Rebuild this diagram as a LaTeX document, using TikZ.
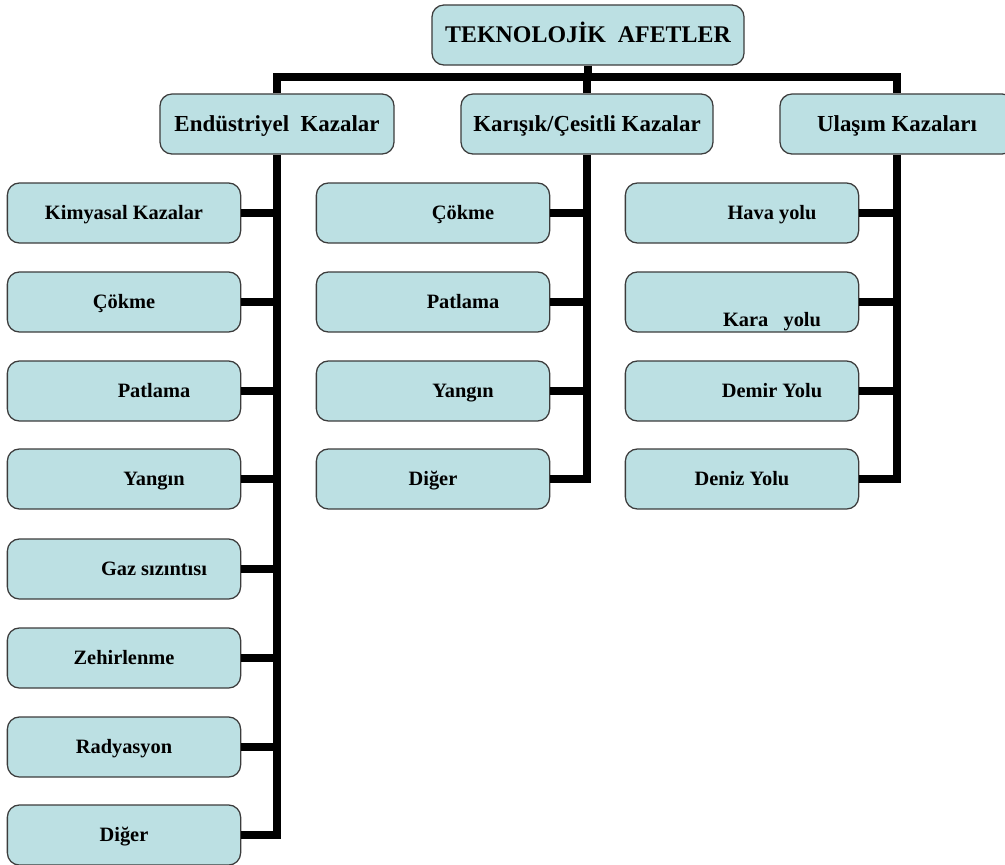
\documentclass[tikz,border=0pt]{standalone}
\usepackage{fontspec}
\setmainfont{Liberation Serif}
\usetikzlibrary{positioning,calc}

\definecolor{boxfill}{RGB}{188,224,227}
\definecolor{boxline}{RGB}{60,60,60}

\begin{document}
\begin{tikzpicture}[
    x=0.025cm, y=-0.025cm,
    box/.style={rectangle, draw=boxline, line width=0.9pt, fill=boxfill, rounded corners=0.3cm,
        minimum height=1.5cm, inner sep=2pt, text depth=3pt, font=\bfseries},
    topbox/.style={box, minimum width=7.8cm, text height=13.5pt, font=\bfseries\fontsize{17}{20}\selectfont},
    groupbox/.style={box, minimum width=5.85cm, text height=13pt, font=\bfseries\fontsize{16.3}{19}\selectfont},
    itembox/.style={box, minimum width=5.83cm, text height=12pt, font=\bfseries\fontsize{14.5}{17}\selectfont},
    rsh/.style={execute at begin node={\hspace*{1.5cm}}},
    conn/.style={line width=0.2cm, black, line join=miter}
]
    \useasboundingbox (0,0) rectangle (1005,864);

    % Top
    \node[topbox] (tk) at (588,35) {TEKNOLOJİK\ \ AFETLER};
    \coordinate (bar) at (588,77);

    % Groups
    \node[groupbox] (ind) at (277,124) {Endüstriyel\ \ Kazalar};
    \node[groupbox, minimum width=6.3cm] (kar) at (587,124) {Karışık/Çesitli Kazalar};
    \node[groupbox] (ula) at (897,124) {Ulaşım Kazaları};

    % Endüstriyel Kazalar
    \node[itembox] (i1) at (124,213) {Kimyasal Kazalar};
    \node[itembox] (i2) at (124,302) {Çökme};
    \node[itembox, rsh] (i3) at (124,391) {Patlama};
    \node[itembox, rsh] (i4) at (124,479) {Yangın};
    \node[itembox, rsh] (i5) at (124,569) {Gaz sızıntısı};
    \node[itembox] (i6) at (124,658) {Zehirlenme};
    \node[itembox] (i7) at (124,747) {Radyasyon};
    \node[itembox] (i8) at (124,835) {Diğer};

    % Karışık/Çeşitli Kazalar
    \node[itembox, rsh] (k1) at (433,213) {Çökme};
    \node[itembox, rsh] (k2) at (433,302) {Patlama};
    \node[itembox, rsh] (k3) at (433,391) {Yangın};
    \node[itembox] (k4) at (433,479) {Diğer};

    % Ulaşım Kazaları
    \node[itembox, rsh] (u1) at (742,213) {Hava yolu};
    \node[itembox, rsh] (u2) at (742,302) {\raisebox{-0.45cm}{Kara\ \ \ yolu}};
    \node[itembox, rsh] (u3) at (742,391) {Demir Yolu};
    \node[itembox] (u4) at (742,479) {Deniz Yolu};

    % Lines
    \draw[conn] (tk.south) -- (bar);
    \draw[conn] (ind.north) |- (bar) -| (ula.north);
    \draw[conn] (kar.north) -- (kar.north |- bar);

    \draw[conn] (ind.south) |- (i8.east);
    \draw[conn] (i1.east) -- (i1.east -| ind.south);
    \draw[conn] (i2.east) -- (i2.east -| ind.south);
    \draw[conn] (i3.east) -- (i3.east -| ind.south);
    \draw[conn] (i4.east) -- (i4.east -| ind.south);
    \draw[conn] (i5.east) -- (i5.east -| ind.south);
    \draw[conn] (i6.east) -- (i6.east -| ind.south);
    \draw[conn] (i7.east) -- (i7.east -| ind.south);

    \draw[conn] (kar.south) |- (k4.east);
    \draw[conn] (k1.east) -- (k1.east -| kar.south);
    \draw[conn] (k2.east) -- (k2.east -| kar.south);
    \draw[conn] (k3.east) -- (k3.east -| kar.south);

    \draw[conn] (ula.south) |- (u4.east);
    \draw[conn] (u1.east) -- (u1.east -| ula.south);
    \draw[conn] (u2.east) -- (u2.east -| ula.south);
    \draw[conn] (u3.east) -- (u3.east -| ula.south);

\end{tikzpicture}
\end{document}
